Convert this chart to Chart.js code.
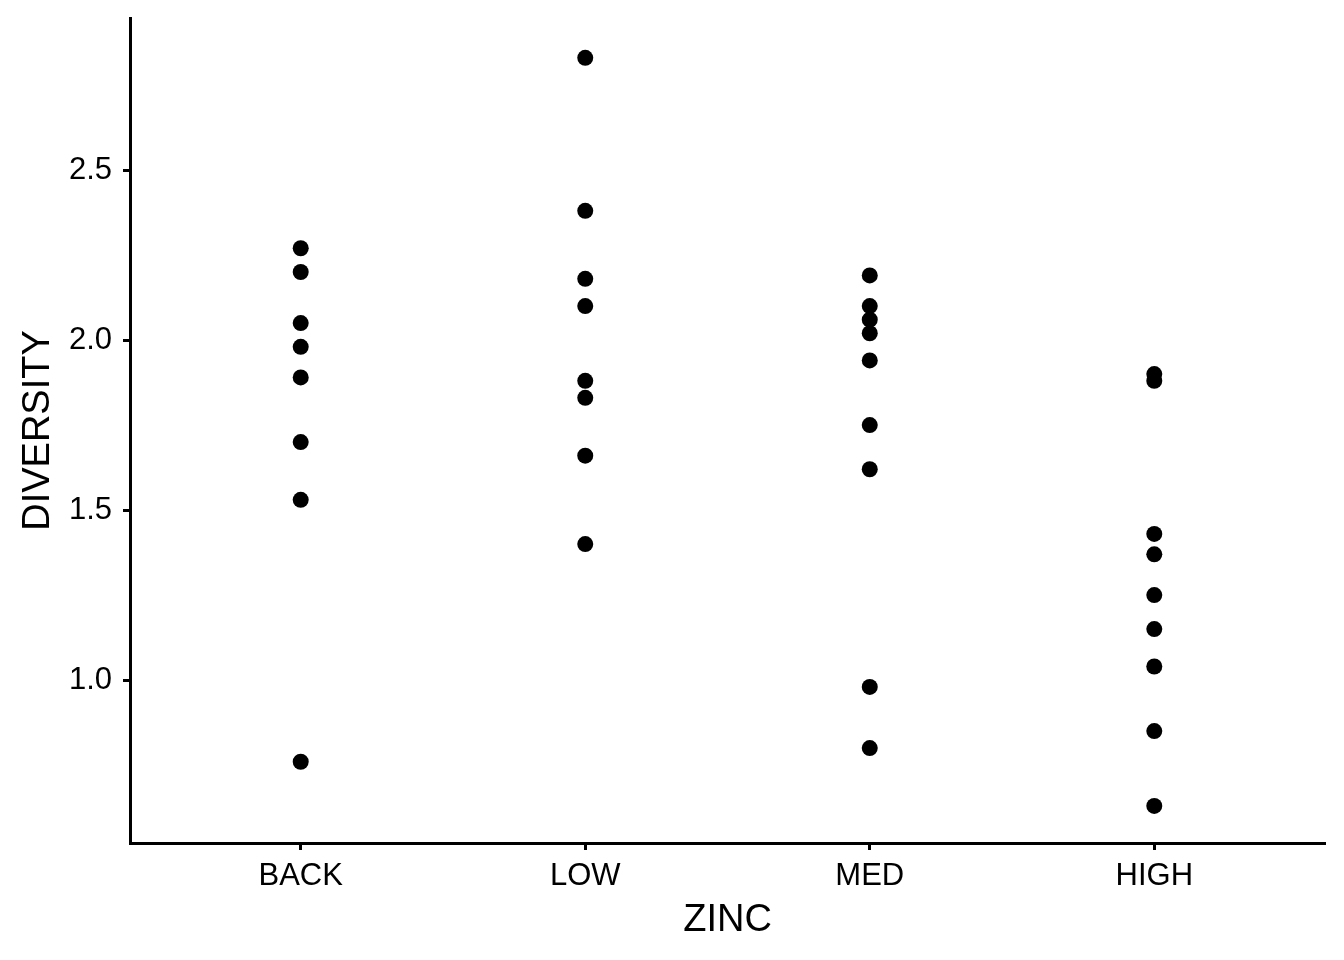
<!DOCTYPE html>
<html lang="en">
<head>
  <meta charset="UTF-8">
  <title>Diversity by Zinc</title>
  <script src="https://cdn.jsdelivr.net/npm/chart.js"></script>
  <style>
    body { margin: 0; background: #fff; }
    .chart-container { position: relative; width: 1344px; height: 960px; }
  </style>
</head>
<body>
  <div class="chart-container">
    <canvas id="zincChart"></canvas>
  </div>
  <script>
    // Data
    const categories = ['BACK', 'LOW', 'MED', 'HIGH'];
    const backValues = [2.27, 2.20, 2.05, 1.98, 1.89, 1.70, 1.53, 0.76];
    const lowValues = [2.83, 2.38, 2.18, 2.10, 1.88, 1.83, 1.66, 1.40];
    const medValues = [2.19, 2.10, 2.06, 2.02, 1.94, 1.75, 1.62, 0.98, 0.80];
    const highValues = [1.90, 1.88, 1.43, 1.37, 1.25, 1.15, 1.04, 0.85, 0.63];
    const yTicks = [1.0, 1.5, 2.0, 2.5];

    const groups = [backValues, lowValues, medValues, highValues];
    const points = [];
    groups.forEach((vals, i) => {
      vals.forEach(v => points.push({ x: i + 1, y: v }));
    });

    const font = { family: "'Liberation Sans', Arial, sans-serif" };

    const ctx = document.getElementById('zincChart').getContext('2d');
    new Chart(ctx, {
      type: 'scatter',
      data: {
        datasets: [{
          label: 'DIVERSITY',
          data: points,
          backgroundColor: '#000',
          borderWidth: 0,
          pointRadius: 8,
          pointHoverRadius: 8
        }]
      },
      options: {
        responsive: true,
        maintainAspectRatio: false,
        animation: false,
        layout: { padding: { top: 18, right: 19, left: 0, bottom: 0 } },
        plugins: {
          legend: { display: false },
          tooltip: { enabled: false }
        },
        scales: {
          x: {
            type: 'linear',
            min: 0.4,
            max: 4.6,
            afterBuildTicks: scale => {
              scale.ticks = categories.map((_, i) => ({ value: i + 1 }));
            },
            afterFit: scale => {
              scale.height = 117;
              scale.paddingLeft = 0;
              scale.paddingRight = 0;
            },
            ticks: {
              color: '#000',
              padding: 8,
              font: { ...font, size: 31 },
              callback: value => categories[value - 1]
            },
            grid: {
              drawOnChartArea: false,
              drawTicks: true,
              tickLength: 7,
              tickWidth: 3,
              tickColor: '#000'
            },
            border: { display: true, color: '#000', width: 3 },
            title: {
              display: true,
              text: 'ZINC',
              color: '#000',
              font: { ...font, size: 38 },
              padding: { top: 0, bottom: 17 }
            }
          },
          y: {
            min: 0.521,
            max: 2.947,
            afterBuildTicks: scale => {
              scale.ticks = yTicks.map(v => ({ value: v }));
            },
            afterFit: scale => {
              scale.width = 130;
              scale.paddingTop = 0;
              scale.paddingBottom = 0;
            },
            ticks: {
              color: '#000',
              padding: 11,
              font: { ...font, size: 31 },
              callback: value => value.toFixed(1)
            },
            grid: {
              drawOnChartArea: false,
              drawTicks: true,
              tickLength: 7,
              tickWidth: 3,
              tickColor: '#000'
            },
            border: { display: true, color: '#000', width: 3 },
            title: {
              display: true,
              text: 'DIVERSITY',
              color: '#000',
              font: { ...font, size: 38 },
              padding: { top: 16, bottom: 0 }
            }
          }
        }
      }
    });
  </script>
</body>
</html>
